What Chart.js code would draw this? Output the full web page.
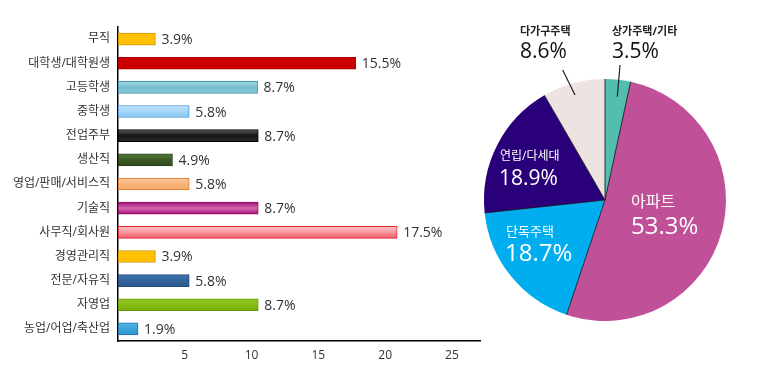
<!DOCTYPE html>
<html><head><meta charset="utf-8">
<script src="https://cdn.jsdelivr.net/npm/chart.js@4/dist/chart.umd.min.js"></script>
<style>
html,body{margin:0;padding:0;background:#fff;width:783px;height:380px;overflow:hidden;}
#bar{position:absolute;left:0;top:0;width:490px;height:380px;}
#pie{position:absolute;left:480px;top:0;width:303px;height:380px;}
</style></head>
<body>
<canvas id="bar" width="490" height="380"></canvas>
<canvas id="pie" width="303" height="380"></canvas>
<script>
// ---- data ----
const categories = ['무직','대학생/대학원생','고등학생','중학생','전업주부','생산직','영업/판매/서비스직','기술직','사무직/회사원','경영관리직','전문/자유직','자영업','농업/어업/축산업'];
const barValues = [2.8, 17.8, 10.45, 5.33, 10.5, 4.08, 5.33, 10.5, 20.9, 2.8, 5.33, 10.5, 1.5];
const barLabels = ['3.9%','15.5%','8.7%','5.8%','8.7%','4.9%','5.8%','8.7%','17.5%','3.9%','5.8%','8.7%','1.9%'];
const xTicks = [5, 10, 15, 20, 25];

const pieCategories = ['상가주택/기타','아파트','단독주택','연립/다세대','다가구주택'];
const pieValues = [3.5, 53.3, 18.7, 18.9, 8.6];
const pieLabels = ['3.5%','53.3%','18.7%','18.9%','8.6%'];

// ---- styles ----
const FONT = "'Open Sans','Noto Sans CJK KR',sans-serif";
const barFills = [
  ['#FFC000','#FFC000','#FFC000'],
  ['#CC0000','#CC0000','#CC0000'],
  ['#A9D9E6','#74BDD0','#8CCBDB'],
  ['#C4E6FC','#A3D6FA','#86C4F3'],
  ['#5a5a5a','#151515','#2a2a2a'],
  ['#557A3A','#3B5A24','#2F4A1C'],
  ['#FCC79A','#F9B57C','#F6A868'],
  ['#A0106F','#D768B2','#A0106F'],
  ['#FFC8CC','#F8959D','#EF5863'],
  ['#FFC000','#FFC000','#FFC000'],
  ['#4478B2','#33649C','#2C5A8E'],
  ['#93C824','#86BC14','#7AAE0C'],
  ['#56B6E6','#3BA4DB','#2F93CB']
];
const barBorders = ['#C9950C','#A80000','#3F93AA','#4A95D6','#000000','#2A4018','#D97A2A','#8E0C62','#E0202C','#C9950C','#24497A','#6A990A','#1F72A6'];
const pieColors = ['#52BEAE','#C05098','#00AEEF','#2A007A','#EDE3E1'];

function barFill(ctx){
  const i = ctx.dataIndex;
  if (i === undefined) return '#ccc';
  const f = barFills[i];
  const ys = ctx.chart.scales && ctx.chart.scales.y;
  if (!ys || ys.top === undefined) return f[1];
  const c = ys.getPixelForValue(i);
  const g = ctx.chart.ctx.createLinearGradient(0, c - 6, 0, c + 6);
  g.addColorStop(0, f[0]);
  g.addColorStop(0.5, f[1]);
  g.addColorStop(1, f[2]);
  return g;
}

const valueLabelPlugin = {
  id: 'valueLabels',
  afterDatasetsDraw(chart){
    const ctx = chart.ctx;
    const meta = chart.getDatasetMeta(0);
    ctx.save();
    ctx.font = '14px ' + FONT;
    ctx.fillStyle = '#333';
    ctx.textBaseline = 'middle';
    ctx.textAlign = 'left';
    meta.data.forEach((el, i) => {
      ctx.fillText(barLabels[i], el.x + 6, el.y + 1);
    });
    ctx.restore();
  }
};

new Chart(document.getElementById('bar'), {
  type: 'bar',
  data: {
    labels: categories,
    datasets: [{
      data: barValues,
      backgroundColor: barFill,
      borderColor: barBorders,
      borderWidth: 1,
      borderSkipped: false,
      barThickness: 12
    }]
  },
  options: {
    indexAxis: 'y',
    responsive: false,
    maintainAspectRatio: false,
    animation: false,
    devicePixelRatio: 1,
    layout: { padding: { left: 0, right: 10, top: 27, bottom: 0 } },
    plugins: { legend: { display: false }, tooltip: { enabled: false } },
    scales: {
      x: {
        min: 0, max: 27.1,
        afterBuildTicks(scale){ scale.ticks = xTicks.map(v => ({ value: v })); },
        afterFit(scale){ scale.height = 39; },
        grid: { display: false, drawTicks: false },
        border: { display: true, color: '#000', width: 1.5 },
        ticks: { color: '#333', font: { size: 12, family: FONT }, padding: 7, maxRotation: 0 }
      },
      y: {
        afterFit(scale){ scale.width = 118; },
        grid: { display: false, drawTicks: false },
        border: { display: true, color: '#000', width: 1.5 },
        ticks: { color: '#333', font: { size: 12, family: FONT }, padding: 8, autoSkip: false }
      }
    }
  },
  plugins: [valueLabelPlugin]
});

// pie annotations (page coords, canvas offset 480)
const OFFX = 480;
const pieTextPlugin = {
  id: 'pieText',
  afterDatasetsDraw(chart){
    const ctx = chart.ctx;
    const meta = chart.getDatasetMeta(0);
    ctx.save();
    ctx.strokeStyle = 'rgba(20,20,30,0.85)';
    ctx.lineWidth = 1;
    meta.data.forEach(el => {
      const a = el.startAngle;
      ctx.beginPath();
      ctx.moveTo(el.x, el.y);
      ctx.lineTo(el.x + Math.cos(a) * el.outerRadius, el.y + Math.sin(a) * el.outerRadius);
      ctx.stroke();
    });
    ctx.strokeStyle = '#222';
    ctx.lineWidth = 1.2;
    ctx.beginPath(); ctx.moveTo(562.7 - OFFX, 70); ctx.lineTo(575 - OFFX, 95); ctx.stroke();
    ctx.beginPath(); ctx.moveTo(620 - OFFX, 65); ctx.lineTo(617.3 - OFFX, 96.7); ctx.stroke();
    ctx.textBaseline = 'middle';
    ctx.textAlign = 'left';
    const items = [
      [520, 31.7, 'bold 11px', '#222', pieCategories[4]],
      [520, 52, '21px', '#111', pieLabels[4]],
      [612, 31.7, 'bold 11px', '#222', pieCategories[0]],
      [612, 52, '21px', '#111', pieLabels[0]],
      [500, 157, '12px', '#fff', pieCategories[3]],
      [499, 179, '21px', '#fff', pieLabels[3]],
      [631, 202, '16px', '#fff', pieCategories[1]],
      [631, 227, '24px', '#fff', pieLabels[1]],
      [506, 232, '13px', '#fff', pieCategories[2]],
      [505, 254, '24px', '#fff', pieLabels[2]]
    ];
    items.forEach(([x, y, f, col, txt]) => {
      ctx.font = f + ' ' + FONT;
      ctx.fillStyle = col;
      ctx.fillText(txt, x - OFFX, y);
    });
    ctx.restore();
  }
};

new Chart(document.getElementById('pie'), {
  type: 'pie',
  data: {
    labels: pieCategories,
    datasets: [{ data: pieValues, backgroundColor: pieColors, borderWidth: 0 }]
  },
  options: {
    responsive: false,
    maintainAspectRatio: false,
    animation: false,
    devicePixelRatio: 1,
    layout: { padding: { left: 4, top: 79, right: 57, bottom: 59 } },
    plugins: { legend: { display: false }, tooltip: { enabled: false } }
  },
  plugins: [pieTextPlugin]
});
</script>
</body></html>
